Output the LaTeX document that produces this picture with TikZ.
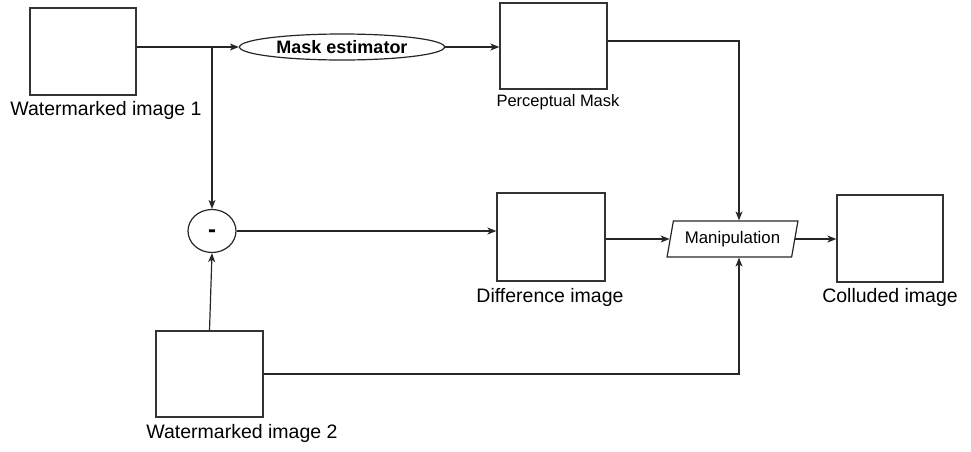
\documentclass[tikz,border=0pt]{standalone}
\usepackage{fontspec}
\setmainfont{Liberation Sans}
\usetikzlibrary{shapes.geometric,arrows.meta}
\begin{document}
\begin{tikzpicture}[x=1pt,y=-1pt,
  box/.style={draw=black!80,line width=1.3pt,rectangle,inner sep=0pt},
  lbl/.style={font=\fontsize{19.5}{21}\selectfont,inner sep=0pt},
  con/.style={line width=1.2pt,draw=black!85},
  arr/.style={con,-{Stealth[length=9pt,width=7pt,inset=2.5pt]}}]
\useasboundingbox (0,0) rectangle (971,451);
% nodes
\node[box,minimum width=106pt,minimum height=87pt] (w1) at (83,51.5) {};
\node[lbl] (w1l) at (106,110) {Watermarked image 1};
\node[draw=black!85,line width=1.2pt,ellipse,minimum width=205pt,minimum height=26pt,inner sep=0pt,font=\fontsize{18}{20}\selectfont\bfseries] (mask) at (342,47) {Mask estimator};
\node[box,minimum width=107pt,minimum height=86pt] (pm) at (553.5,46) {};
\node[inner sep=0pt,font=\fontsize{16.5}{18}\selectfont] (pml) at (558,102) {Perceptual Mask};
\node[draw=black!85,line width=1.2pt,ellipse,minimum width=48pt,minimum height=43pt,inner sep=0pt,font=\fontsize{24}{26}\selectfont\bfseries] (minus) at (212,231) {\smash{\raisebox{-6.5pt}{-}}};
\node[box,minimum width=108pt,minimum height=88pt] (diff) at (551,237) {};
\node[lbl] (diffl) at (550,297) {Difference image};
\node[draw=black!85,line width=1.2pt,trapezium,trapezium left angle=72,trapezium right angle=108,trapezium stretches=true,minimum width=131pt,minimum height=36pt,inner sep=0pt,font=\fontsize{16.8}{18}\selectfont] (manip) at (732.5,239) {Manipulation};
\node[box,minimum width=106pt,minimum height=87pt] (cl) at (890,238.5) {};
\node[lbl] (cll) at (890,297) {Colluded image};
\node[box,minimum width=107pt,minimum height=86pt] (w2) at (209.5,374) {};
\node[lbl] (w2l) at (242,433) {Watermarked image 2};
% connectors
\coordinate (j) at (minus.north |- mask.west);
\draw[arr] (w1.east |- mask.west) -- (mask.west);
\draw[arr] (j) -- (minus.north);
\draw[arr] (mask.east) -- (pm.west |- mask.east);
\draw[arr] ([yshift=5pt]pm.east) -| ([xshift=6.5pt]manip.north);
\draw[arr] (minus.east) -- (diff.west |- minus.east);
\draw[arr] (diff.east |- manip.west) -- (manip.west);
\draw[arr] (manip.east) -- (cl.west |- manip.east);
\draw[arr] (w2.north) -- (minus.south);
\draw[arr] (w2.east) -| ([xshift=6.5pt]manip.south);
\end{tikzpicture}
\end{document}
